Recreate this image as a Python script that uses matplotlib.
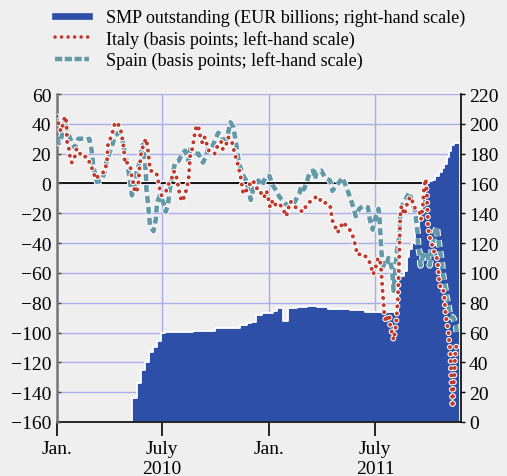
import matplotlib
matplotlib.use('Agg')
import matplotlib.pyplot as plt
import matplotlib.patheffects as pe
import matplotlib.transforms as mtransforms
from matplotlib.lines import Line2D
import numpy as np
import pandas as pd

plt.rcParams['font.family'] = ['Liberation Serif', 'DejaVu Serif']

# ---------------- data (days after 1 Jan 2010) ----------------
italy_day = [0, 3, 7, 11, 14, 16, 17, 18, 22, 23,
             26, 31, 34, 37, 42, 51, 58, 63, 67, 74,
             82, 86, 88, 93, 97, 100, 107, 111, 113, 115,
             117, 121, 126, 129, 131, 134, 137, 140, 142, 145,
             149, 153, 156, 157, 159, 160, 166, 171, 174, 177,
             180, 187, 191, 197, 200, 204, 206, 209, 211, 215,
             220, 223, 226, 227, 229, 233, 235, 237, 240, 243,
             246, 250, 254, 257, 261, 269, 271, 277, 282, 285,
             290, 294, 300, 303, 306, 310, 313, 316, 318, 320,
             327, 333, 337, 342, 349, 352, 356, 360, 363, 366,
             370, 373, 378, 383, 389, 394, 397, 401, 407, 416,
             423, 429, 437, 445, 450, 454, 463, 469, 473, 477,
             481, 486, 490, 499, 506, 510, 513, 516, 523, 530,
             537, 540, 543, 548, 551, 554, 556, 557, 558, 559,
             560, 561, 562, 565, 568, 571, 572, 575, 578, 580,
             582, 583, 584, 585, 586, 587, 588, 589, 590, 592,
             596, 600, 602, 608, 613, 617, 623, 625, 628, 629,
             630, 633, 635, 636, 637, 639, 643, 646, 649, 652,
             654, 656, 659, 663, 665, 666, 667, 669, 672, 673,
             675, 676, 677, 678, 679, 680, 682, 683, 684, 686]
italy_bp = [45, 40, 35, 40, 45, 43, 38, 27, 22, 16,
            14, 18, 23, 23, 18, 18, 13, 7.5, 3, 6,
            8, 14, 26, 31, 36, 41, 39, 34, 29, 24,
            13, 14, 12, 4, 1, -5, -6, 0, 10, 21,
            26, 30, 25, 20, 14, 9, 7.5, 7, 2, -4,
            -8, -6, -1, 3, 8, 7.5, 3, -3, -8, -12,
            -8, -3, 2, 7.5, 18.5, 24, 29, 34, 39, 38,
            32, 27, 31, 27, 22, 21, 20, 26.5, 28, 23,
            25, 31, 29, 24, 19, 14, 9, 3.5, -2, -7,
            -4, 1, 2, -3, -4, -9, -9, -5, -10, -16,
            -12, -15, -13, -14, -18, -22, -17, -12, -15, -18,
            -19, -14, -11.5, -9, -9, -13, -13, -15, -25, -28,
            -33, -31, -26, -29, -33, -38, -43, -48, -47, -49,
            -53, -57, -61, -55, -50, -51, -55, -61, -67, -72,
            -77, -82, -88, -93, -88, -90, -95, -100, -105, -100,
            -95, -90, -84, -79, -68, -57, -42, -25, -17, -15,
            -21, -16, -11, -9, -16, -17, -20, -24, -15, -9,
            -3, 3, -7, -18, -29, -35, -40, -44, -48, -50,
            -55, -65, -71, -71, -77, -82, -87, -93, -99, -105,
            -111, -121, -132, -142, -150, -140, -129, -120, -113, -108]

spain_day = [0, 4, 9, 14, 18, 20, 26, 31, 37, 46,
             50, 56, 60, 63, 69, 77, 83, 86, 94, 100,
             106, 111, 114, 117, 121, 125, 129, 134, 137, 143,
             146, 149, 151, 153, 154, 157, 160, 166, 170, 172,
             177, 183, 187, 191, 194, 199, 203, 209, 214, 220,
             226, 229, 235, 243, 251, 257, 260, 266, 269, 277,
             283, 289, 294, 298, 303, 306, 309, 311, 314, 319,
             325, 333, 337, 346, 352, 359, 365, 370, 377, 382,
             388, 393, 400, 406, 416, 420, 424, 429, 434, 440,
             443, 446, 454, 460, 469, 473, 479, 485, 490, 497,
             502, 508, 513, 519, 526, 534, 537, 542, 546, 552,
             554, 555, 556, 557, 560, 565, 569, 571, 575, 577,
             578, 580, 582, 584, 588, 589, 592, 597, 605, 609,
             615, 619, 620, 623, 624, 629, 635, 637, 640, 643,
             647, 652, 654, 657, 660, 663, 666, 669, 672, 675,
             680, 685, 687]
spain_bp = [31, 27, 32, 42, 36, 33, 27.6, 24, 30, 30,
            29, 30, 22, 11, 1, 2, 8.6, 16, 24, 32,
            34, 34, 26.5, 20, 13, 4, -8, -1.5, 7.5, 15,
            25, 26.5, 16, 7.5, -4, -15, -28, -32, -24, -13,
            -8, -13, -19, -14, -4, 6, 14, 15, 19, 22,
            15, 23, 20, 20, 14, 19, 24, 24, 26.5, 34,
            32, 25, 34, 41, 38, 31, 24, 17.6, 12, 6,
            2, -11, -4, 2, -1.5, 5, 5, -1, -5, -9,
            -11.5, -14, -15, -14, -7, -1.5, -4, 1, 7.5, 8.6,
            3, 7.5, 8.6, 4, 2, -5, -1.5, 1, 4, -2.6,
            -8, -15, -22, -17, -15, -16, -24, -31, -24, -17,
            -25, -32, -38, -46, -55, -56, -50, -51, -57, -66,
            -72, -62, -52, -44, -35, -23, -15, -11.5, -6, -11.5,
            -19, -33, -42, -48, -55, -48, -46, -50, -55, -46,
            -35, -29, -36, -44, -51, -62, -69, -77, -82, -89,
            -90, -95, -102]

smp_day = [0, 130, 137, 144, 151, 158, 165, 172, 179, 186,
           234, 271, 314, 326, 334, 342, 352, 371, 378, 389,
           397, 412, 429, 446, 466, 503, 529, 586, 595, 601,
           604, 609, 615, 621, 627, 632, 635, 638, 644, 649,
           655, 661, 665, 670, 673, 677, 681, 692]
smp_bn = [0, 16, 26, 35, 40.5, 47, 50.5, 54, 59.5, 60.3,
          61, 63, 65, 66.4, 67.3, 72, 73, 74.3, 76.3, 68,
          76.3, 77, 77.6, 77, 76, 75.2, 74, 98, 101, 111,
          116, 120, 129, 140, 149.5, 157, 160, 161.5, 162.6, 165,
          167.6, 170.5, 173, 178, 181.6, 186, 187, 187]

tick_day = [0, 181, 365, 546]
tick_labels = ['Jan.', 'July\n2010', 'Jan.', 'July\n2011']
legend_labels = ['SMP outstanding (EUR billions; right-hand scale)',
                 'Italy (basis points; left-hand scale)',
                 'Spain (basis points; left-hand scale)']

start = pd.Timestamp('2010-01-01')


def to_dates(days):
    return (start + pd.to_timedelta(np.asarray(days, dtype=float), unit='D')).to_numpy()


BG = '#efefef'
BLUE = '#2d4fa7'
RED = '#c0392b'
TEAL = '#6298a8'
GRID = '#a9aee6'

fig = plt.figure(figsize=(5.07, 4.77), dpi=100, facecolor=BG)
axR = fig.add_axes([56.7 / 507, 1 - 423 / 477, (460.7 - 56.7) / 507, (423 - 95) / 477])
axR.set_facecolor(BG)
axL = axR.twinx()

# right-hand axis (SMP)
axR.yaxis.tick_right()
axR.set_ylim(0, 220)
axR.set_yticks(np.arange(0, 221, 20))
axR.set_axisbelow(True)
axR.grid(True, color=GRID, lw=1.0)
zero_tr = mtransforms.blended_transform_factory(axR.transAxes, axL.transData)
zl = Line2D([0, 1], [0, 0], transform=zero_tr, color='black', lw=1.3, zorder=1.5,
            path_effects=[pe.withStroke(offset=(0, 1.2), linewidth=2.5, foreground='white')])
axR.add_line(zl)
axR.fill_between(to_dates(smp_day), smp_bn, 0, step='post', facecolor=BLUE,
                 edgecolor='white', lw=1.3, zorder=2)

# left-hand axis (spreads)
axL.yaxis.tick_left()
axL.set_ylim(-160, 60)
axL.set_yticks(np.arange(-160, 61, 20))
outline = lambda w: [pe.withStroke(linewidth=w, foreground='white')]
axL.plot(to_dates(spain_day), spain_bp, color=TEAL, lw=3.3,
         linestyle=(0, (1.5, 0.9)), dash_capstyle='butt', solid_joinstyle='round',
         path_effects=outline(4.7), zorder=3)
axL.plot(to_dates(italy_day), italy_bp, color=RED, lw=2.9,
         linestyle=(0, (0.01, 1.75)), dash_capstyle='round',
         path_effects=outline(4.4), zorder=4)

axR.set_xlim(to_dates([0])[0], to_dates([693])[0])
axR.set_xticks(to_dates(tick_day))
axR.set_xticklabels(tick_labels)

for a in (axR, axL):
    a.spines['top'].set_visible(False)
axR.spines['left'].set_visible(False)
axL.spines['right'].set_visible(False)
axL.spines['bottom'].set_visible(False)
axL.spines['left'].set_color('#777777')
axL.spines['left'].set_linewidth(1.8)
axR.spines['right'].set_color('black')
axR.spines['right'].set_linewidth(1.2)
axR.spines['bottom'].set_color('black')
axR.spines['bottom'].set_linewidth(1.2)

axR.tick_params(axis='x', direction='out', length=10, width=1.2, labelsize=14, pad=3)
axR.tick_params(axis='y', direction='out', length=3, width=1.0, labelsize=14, pad=3)
axL.tick_params(axis='y', direction='in', length=3, width=1.0, color='#444444',
                labelsize=14, pad=4)

handles = [Line2D([], [], color=BLUE, lw=4.8),
           Line2D([], [], color=RED, lw=2.6, linestyle=(0, (0.01, 1.8)), dash_capstyle='round'),
           Line2D([], [], color=TEAL, lw=3.2, linestyle=(0, (1.6, 0.6)))]
fig.legend(handles, legend_labels, loc='upper left', bbox_to_anchor=(55 / 507, 1 - 10 / 477),
           frameon=False, fontsize=13, borderpad=0, borderaxespad=0,
           handlelength=1.9, handletextpad=0.9, labelspacing=0.2)

fig.savefig('out.png', dpi=100, facecolor=BG)
